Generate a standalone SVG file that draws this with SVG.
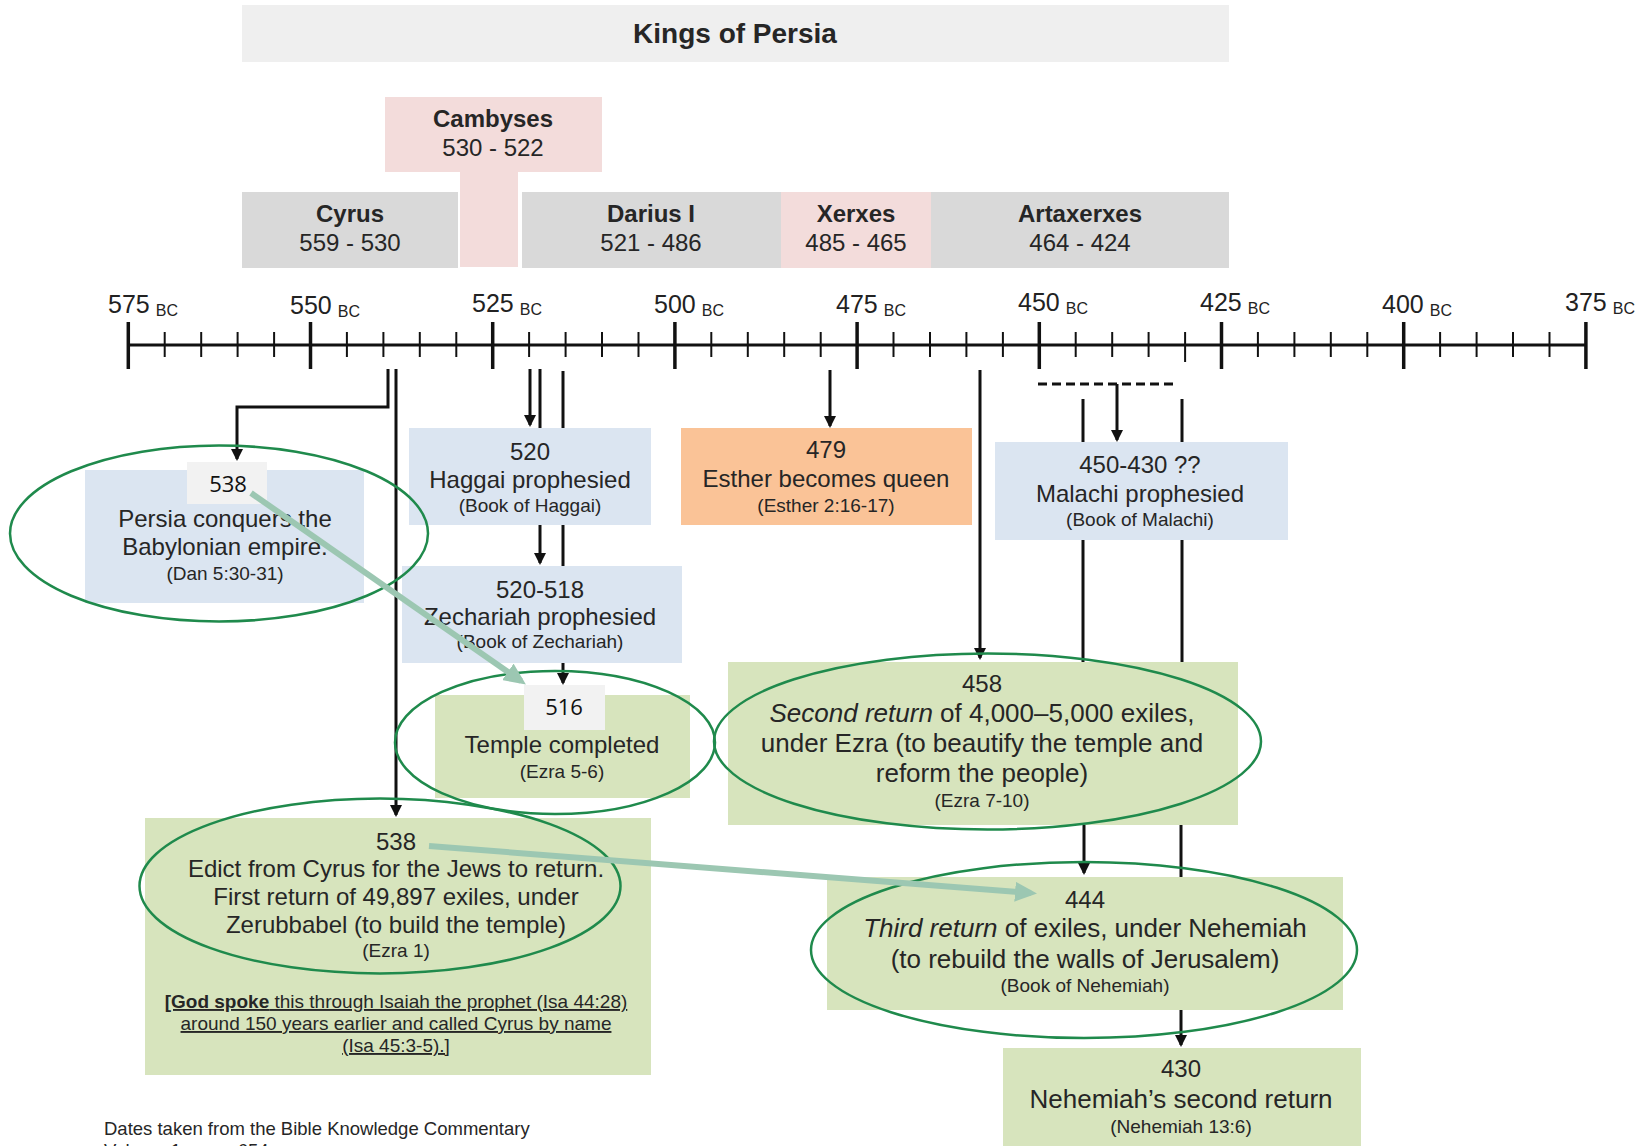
<svg xmlns="http://www.w3.org/2000/svg" width="1650" height="1146" viewBox="0 0 1650 1146">
<style>
.t{font-family:"Liberation Sans",Arial,sans-serif;fill:#262626;text-anchor:middle}
.m{font-size:24px}
.s{font-size:19px}
.l{font-size:26px}
.b{font-weight:bold}
.lab{font-family:"Open Sans","Liberation Sans",sans-serif;font-size:22px;fill:#111;text-anchor:middle}
.tk{font-family:"Liberation Sans",Arial,sans-serif;fill:#222}
.gray{fill:#d9d9d9}
.pink{fill:#f3dcdb}
.blue{fill:#dbe5f1}
.green{fill:#d7e4bd}
.orange{fill:#fac397}
.labbox{fill:#f2f2f2}
.ell{fill:none;stroke:#1f8a4c;stroke-width:2.5}
.con{fill:none;stroke:#111;stroke-width:3}
.teal{fill:none;stroke:#9cc7b2;stroke-width:6}
.major{stroke:#111;stroke-width:3.5}
.minor{stroke:#111;stroke-width:2}
</style>
<defs>
<marker id="ah" viewBox="0 0 12 12" refX="10" refY="6" markerWidth="12" markerHeight="12" markerUnits="userSpaceOnUse" orient="auto">
<path d="M0,0 L12,6 L0,12 z" fill="#111"/>
</marker>
<marker id="tah" viewBox="0 0 22 20" refX="16" refY="10" markerWidth="22" markerHeight="20" markerUnits="userSpaceOnUse" orient="auto">
<path d="M0,0 L22,10 L0,20 z" fill="#9cc7b2"/>
</marker>
</defs>
<rect width="1650" height="1146" fill="#ffffff"/>

<g id="title">
<rect x="242" y="5" width="987" height="57" fill="#efefef"/>
<text class="t b" x="735" y="43" font-size="28">Kings of Persia</text>
</g>

<g id="cambyses">
<path class="pink" d="M385,97 H602 V172 H518 V267 H460 V172 H385 Z"/>
<text class="t k b m" x="493" y="127">Cambyses</text>
<text class="t m" x="493" y="156">530 - 522</text>
</g>
<g id="cyrus">
<rect class="gray" x="242" y="192" width="216" height="76"/>
<text class="t b m" x="350" y="222">Cyrus</text>
<text class="t m" x="350" y="251">559 - 530</text>
</g>
<g id="darius">
<rect class="gray" x="522" y="192" width="259" height="76"/>
<text class="t b m" x="651" y="222">Darius I</text>
<text class="t m" x="651" y="251">521 - 486</text>
</g>
<g id="xerxes">
<rect class="pink" x="781" y="192" width="150" height="76"/>
<text class="t b m" x="856" y="222">Xerxes</text>
<text class="t m" x="856" y="251">485 - 465</text>
</g>
<g id="artaxerxes">
<rect class="gray" x="931" y="192" width="298" height="76"/>
<text class="t b m" x="1080" y="222">Artaxerxes</text>
<text class="t m" x="1080" y="251">464 - 424</text>
</g>

<g id="timeline">
<line x1="128" y1="345" x2="1586" y2="345" stroke="#111" stroke-width="3"/>
<g class="major">
<line x1="128.3" y1="322" x2="128.3" y2="369"/>
<line x1="310.5" y1="322" x2="310.5" y2="369"/>
<line x1="492.7" y1="322" x2="492.7" y2="369"/>
<line x1="674.9" y1="322" x2="674.9" y2="369"/>
<line x1="857.1" y1="322" x2="857.1" y2="369"/>
<line x1="1039.3" y1="322" x2="1039.3" y2="369"/>
<line x1="1221.5" y1="322" x2="1221.5" y2="369"/>
<line x1="1403.7" y1="322" x2="1403.7" y2="369"/>
<line x1="1585.9" y1="322" x2="1585.9" y2="369"/>
</g>
<g class="minor">
<line x1="164.7" y1="332" x2="164.7" y2="357"/><line x1="201.2" y1="332" x2="201.2" y2="357"/><line x1="237.6" y1="332" x2="237.6" y2="357"/><line x1="274.1" y1="332" x2="274.1" y2="357"/>
<line x1="346.9" y1="332" x2="346.9" y2="357"/><line x1="383.4" y1="332" x2="383.4" y2="357"/><line x1="419.8" y1="332" x2="419.8" y2="357"/><line x1="456.3" y1="332" x2="456.3" y2="357"/>
<line x1="529.1" y1="332" x2="529.1" y2="357"/><line x1="565.6" y1="332" x2="565.6" y2="357"/><line x1="602.0" y1="332" x2="602.0" y2="357"/><line x1="638.5" y1="332" x2="638.5" y2="357"/>
<line x1="711.3" y1="332" x2="711.3" y2="357"/><line x1="747.8" y1="332" x2="747.8" y2="357"/><line x1="784.2" y1="332" x2="784.2" y2="357"/><line x1="820.7" y1="332" x2="820.7" y2="357"/>
<line x1="893.5" y1="332" x2="893.5" y2="357"/><line x1="930.0" y1="332" x2="930.0" y2="357"/><line x1="966.4" y1="332" x2="966.4" y2="357"/><line x1="1002.9" y1="332" x2="1002.9" y2="357"/>
<line x1="1075.7" y1="332" x2="1075.7" y2="357"/><line x1="1112.2" y1="332" x2="1112.2" y2="357"/><line x1="1148.6" y1="332" x2="1148.6" y2="357"/><line x1="1185.1" y1="332" x2="1185.1" y2="362"/>
<line x1="1257.9" y1="332" x2="1257.9" y2="357"/><line x1="1294.4" y1="332" x2="1294.4" y2="357"/><line x1="1330.8" y1="332" x2="1330.8" y2="357"/><line x1="1367.3" y1="332" x2="1367.3" y2="357"/>
<line x1="1440.1" y1="332" x2="1440.1" y2="357"/><line x1="1476.6" y1="332" x2="1476.6" y2="357"/><line x1="1513.0" y1="332" x2="1513.0" y2="357"/><line x1="1549.5" y1="332" x2="1549.5" y2="357"/>
</g>
<g class="tk">
<text x="108" y="313" font-size="25">575<tspan font-size="16" dx="6" dy="3">BC</tspan></text>
<text x="290" y="314" font-size="25">550<tspan font-size="16" dx="6" dy="3">BC</tspan></text>
<text x="472" y="312" font-size="25">525<tspan font-size="16" dx="6" dy="3">BC</tspan></text>
<text x="654" y="313" font-size="25">500<tspan font-size="16" dx="6" dy="3">BC</tspan></text>
<text x="836" y="313" font-size="25">475<tspan font-size="16" dx="6" dy="3">BC</tspan></text>
<text x="1018" y="311" font-size="25">450<tspan font-size="16" dx="6" dy="3">BC</tspan></text>
<text x="1200" y="311" font-size="25">425<tspan font-size="16" dx="6" dy="3">BC</tspan></text>
<text x="1382" y="313" font-size="25">400<tspan font-size="16" dx="6" dy="3">BC</tspan></text>
<text x="1565" y="311" font-size="25">375<tspan font-size="16" dx="6" dy="3">BC</tspan></text>
</g>
</g>

<g id="persia">
<rect class="blue" x="85" y="470" width="279" height="133"/>
<rect class="labbox" x="187" y="462" width="80" height="42"/>
<text class="lab" x="228" y="492">538</text>
<text class="t m" x="225" y="527">Persia conquers the</text>
<text class="t m" x="225" y="555">Babylonian empire.</text>
<text class="t s" x="225" y="580">(Dan 5:30-31)</text>
</g>

<g id="haggai">
<rect class="blue" x="409" y="428" width="242" height="97"/>
<text class="t m" x="530" y="460">520</text>
<text class="t m" x="530" y="488">Haggai prophesied</text>
<text class="t s" x="530" y="512">(Book of Haggai)</text>
</g>

<g id="zechariah">
<rect class="blue" x="402" y="566" width="280" height="97"/>
<text class="t m" x="540" y="598">520-518</text>
<text class="t m" x="540" y="625">Zechariah prophesied</text>
<text class="t s" x="540" y="648">(Book of Zechariah)</text>
</g>

<g id="temple">
<rect class="green" x="435" y="695" width="255" height="103"/>
<rect class="labbox" x="524" y="685" width="81" height="45"/>
<text class="lab" x="564" y="715">516</text>
<text class="t m" x="562" y="753">Temple completed</text>
<text class="t s" x="562" y="778">(Ezra 5-6)</text>
</g>

<g id="esther">
<rect class="orange" x="681" y="428" width="291" height="97"/>
<text class="t m" x="826" y="458">479</text>
<text class="t m" x="826" y="487">Esther becomes queen</text>
<text class="t s" x="826" y="512">(Esther 2:16-17)</text>
</g>

<g id="malachi">
<rect class="blue" x="995" y="442" width="293" height="98"/>
<text class="t m" x="1140" y="473">450-430 ??</text>
<text class="t m" x="1140" y="502">Malachi prophesied</text>
<text class="t s" x="1140" y="526">(Book of Malachi)</text>
</g>

<g id="ezra458">
<rect class="green" x="728" y="662" width="510" height="163"/>
<text class="t m" x="982" y="692">458</text>
<text class="t l" x="982" y="722"><tspan font-style="italic">Second return</tspan> of 4,000–5,000 exiles,</text>
<text class="t l" x="982" y="752">under Ezra (to beautify the temple and</text>
<text class="t l" x="982" y="782">reform the people)</text>
<text class="t s" x="982" y="807">(Ezra 7-10)</text>
</g>

<g id="edict538">
<rect class="green" x="145" y="818" width="506" height="257"/>
<text class="t m" x="396" y="850">538</text>
<text class="t m" x="396" y="877">Edict from Cyrus for the Jews to return.</text>
<text class="t m" x="396" y="905">First return of 49,897 exiles, under</text>
<text class="t m" x="396" y="933">Zerubbabel (to build the temple)</text>
<text class="t s" x="396" y="957">(Ezra 1)</text>
<text class="t s" x="396" y="1008" text-decoration="underline"><tspan font-weight="bold">[God spoke</tspan> this through Isaiah the prophet (Isa 44:28)</text>
<text class="t s" x="396" y="1030" text-decoration="underline">around 150 years earlier and called Cyrus by name</text>
<text class="t s" x="396" y="1052" text-decoration="underline">(Isa 45:3-5).]</text>
</g>

<g id="nehemiah444">
<rect class="green" x="827" y="877" width="516" height="133"/>
<text class="t m" x="1085" y="908">444</text>
<text class="t l" x="1085" y="937"><tspan font-style="italic">Third return</tspan> of exiles, under Nehemiah</text>
<text class="t l" x="1085" y="968">(to rebuild the walls of Jerusalem)</text>
<text class="t s" x="1085" y="992">(Book of Nehemiah)</text>
</g>

<g id="nehemiah430">
<rect class="green" x="1003" y="1048" width="358" height="110"/>
<text class="t m" x="1181" y="1077">430</text>
<text class="t l" x="1181" y="1108">Nehemiah’s second return</text>
<text class="t s" x="1181" y="1133">(Nehemiah 13:6)</text>
</g>

<g id="footer">
<text class="t" x="104" y="1135" font-size="18.5" style="text-anchor:start">Dates taken from the Bible Knowledge Commentary</text>
<text class="t" x="104" y="1157" font-size="18.5" style="text-anchor:start">Volume 1, page 654</text>
</g>

<g id="connectors">
<path class="con" d="M388,369 V407 H237 V459" marker-end="url(#ah)" stroke-width="3.5"/>
<line class="con" x1="396" y1="369" x2="396" y2="815" marker-end="url(#ah)"/>
<line class="con" x1="530" y1="369" x2="530" y2="425" marker-end="url(#ah)"/>
<line class="con" x1="540" y1="369" x2="540" y2="428"/>
<line class="con" x1="563" y1="371" x2="563" y2="428"/>
<line class="con" x1="540" y1="525" x2="540" y2="563" marker-end="url(#ah)"/>
<line class="con" x1="563" y1="525" x2="563" y2="566"/>
<line class="con" x1="563" y1="663" x2="563" y2="683" marker-end="url(#ah)"/>
<line class="con" x1="830" y1="370" x2="830" y2="426" marker-end="url(#ah)"/>
<line class="con" x1="980" y1="370" x2="980" y2="658" marker-end="url(#ah)"/>
<line class="con" x1="1038" y1="384" x2="1175" y2="384" stroke-dasharray="9,5"/>
<line class="con" x1="1117" y1="384" x2="1117" y2="440" marker-end="url(#ah)"/>
<line class="con" x1="1083" y1="399" x2="1083" y2="442"/>
<line class="con" x1="1182" y1="399" x2="1182" y2="442"/>
<line class="con" x1="1083" y1="540" x2="1083" y2="662"/>
<line class="con" x1="1182" y1="540" x2="1182" y2="662"/>
<line class="con" x1="1084" y1="825" x2="1084" y2="873" marker-end="url(#ah)"/>
<line class="con" x1="1181" y1="825" x2="1181" y2="877"/>
<line class="con" x1="1181" y1="1010" x2="1181" y2="1045" marker-end="url(#ah)"/>
</g>

<g id="highlights">
<ellipse class="ell" cx="219" cy="533.5" rx="209" ry="88"/>
<ellipse class="ell" cx="555" cy="742.5" rx="160" ry="71.5"/>
<ellipse class="ell" cx="987.5" cy="741.5" rx="273.5" ry="88"/>
<ellipse class="ell" cx="380" cy="886" rx="240.5" ry="87.5"/>
<ellipse class="ell" cx="1084" cy="950" rx="273" ry="88"/>
<line class="teal" x1="251" y1="493" x2="521" y2="681" marker-end="url(#tah)"/>
<line class="teal" x1="429" y1="846" x2="1031" y2="893" marker-end="url(#tah)"/>
</g>
</svg>
